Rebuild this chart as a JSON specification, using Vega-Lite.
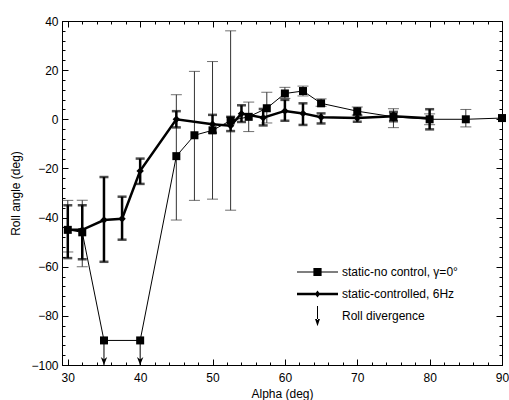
{
  "$schema": "https://vega.github.io/schema/vega-lite/v6.json",
  "width": 440,
  "height": 344,
  "autosize": {"type": "none"},
  "padding": {"left": 62, "top": 21, "right": 7, "bottom": 35},
  "background": "white",
  "config": {
    "view": {"stroke": "black", "strokeWidth": 1},
    "axis": {
      "labelFont": "Liberation Sans", "labelFontSize": 12, "labelColor": "black",
      "titleFont": "Liberation Sans", "titleFontSize": 12, "titleFontWeight": "normal", "titleColor": "black",
      "domainColor": "black", "tickColor": "black", "grid": false, "labelFlush": false, "labelOverlap": false
    },
    "legend": {"labelFont": "Liberation Sans", "labelFontSize": 12, "labelColor": "black"}
  },
  "datasets": {
    "d": [
      {"s": "nc", "x": 30, "y": -45, "lo": -54, "hi": -33},
      {"s": "nc", "x": 32, "y": -46, "lo": -60, "hi": -33},
      {"s": "nc", "x": 35, "y": -90, "lo": null, "hi": null},
      {"s": "nc", "x": 40, "y": -90, "lo": null, "hi": null},
      {"s": "nc", "x": 45, "y": -15, "lo": -41, "hi": 10},
      {"s": "nc", "x": 47.5, "y": -6.5, "lo": -33, "hi": 19.5},
      {"s": "nc", "x": 50, "y": -4.5, "lo": -32.5, "hi": 23.5},
      {"s": "nc", "x": 52.5, "y": -0.5, "lo": -37, "hi": 36},
      {"s": "nc", "x": 55, "y": 1, "lo": -5, "hi": 7},
      {"s": "nc", "x": 57.5, "y": 4.5, "lo": -1.5, "hi": 11},
      {"s": "nc", "x": 60, "y": 10.5, "lo": 8.5, "hi": 13},
      {"s": "nc", "x": 62.5, "y": 11.5, "lo": 9.5, "hi": 13.5},
      {"s": "nc", "x": 65, "y": 6.5, "lo": 5.3, "hi": 8.3},
      {"s": "nc", "x": 70, "y": 3.3, "lo": 1.7, "hi": 5},
      {"s": "nc", "x": 75, "y": 1, "lo": -3.4, "hi": 4.3},
      {"s": "nc", "x": 80, "y": 0, "lo": -2.2, "hi": 2.2},
      {"s": "nc", "x": 85, "y": 0, "lo": -3.1, "hi": 4},
      {"s": "nc", "x": 90, "y": 0.5, "lo": null, "hi": null},
      {"s": "c", "x": 30, "y": -45, "lo": -56.5, "hi": -35},
      {"s": "c", "x": 32, "y": -45, "lo": -57, "hi": -35},
      {"s": "c", "x": 35, "y": -41, "lo": -58, "hi": -23.5},
      {"s": "c", "x": 37.5, "y": -40.5, "lo": -49, "hi": -31.5},
      {"s": "c", "x": 40, "y": -21, "lo": -26.3, "hi": -16},
      {"s": "c", "x": 45, "y": 0, "lo": -3.3, "hi": 3.3},
      {"s": "c", "x": 50, "y": -2, "lo": -5.5, "hi": 1.8},
      {"s": "c", "x": 52.5, "y": -2.6, "lo": -4.8, "hi": 1},
      {"s": "c", "x": 54, "y": 2.3, "lo": -1.1, "hi": 5.7},
      {"s": "c", "x": 57, "y": 0.6, "lo": -2.5, "hi": 4.2},
      {"s": "c", "x": 60, "y": 3.4, "lo": -0.6, "hi": 7.9},
      {"s": "c", "x": 62.5, "y": 2.4, "lo": -2.3, "hi": 6.5},
      {"s": "c", "x": 65, "y": 0.8, "lo": -1.7, "hi": 2.4},
      {"s": "c", "x": 70, "y": 0.5, "lo": -1, "hi": 1.7},
      {"s": "c", "x": 75, "y": 1.2, "lo": -0.8, "hi": 3},
      {"s": "c", "x": 80, "y": 0.4, "lo": -4.1, "hi": 4.1}
    ],
    "arr": [
      {"x": 35, "y": -90, "y2": -100},
      {"x": 40, "y": -90, "y2": -100}
    ]
  },
  "resolve": {"axis": {"x": "independent", "y": "independent"}},
  "layer": [
    {
      "data": {"name": "d"},
      "transform": [{"filter": "datum.s === 'nc'"}],
      "mark": {"type": "rule", "color": "#333", "strokeWidth": 1},
      "encoding": {
        "x": {"field": "x", "type": "quantitative", "scale": {"domain": [29.2, 90], "nice": false, "zero": false},
          "axis": {"orient": "bottom", "title": "Alpha (deg)", "values": [30,32,34,36,38,40,42,44,46,48,50,52,54,56,58,60,62,64,66,68,70,72,74,76,78,80,82,84,86,88,90],
            "labelExpr": "datum.value % 10 === 0 ? datum.label : ''",
            "tickSize": {"condition": {"test": "datum.value % 10 === 0", "value": -6}, "value": -3},
            "labelPadding": 13, "titlePadding": 2}},
        "y": {"field": "lo", "type": "quantitative", "scale": {"domain": [-100, 40], "nice": false, "zero": false},
          "axis": {"orient": "left", "title": "Roll angle (deg)", "values": [-100,-96,-92,-88,-84,-80,-76,-72,-68,-64,-60,-56,-52,-48,-44,-40,-36,-32,-28,-24,-20,-16,-12,-8,-4,0,4,8,12,16,20,24,28,32,36,40],
            "labelExpr": "datum.value % 20 === 0 ? datum.label : ''",
            "tickSize": {"condition": {"test": "datum.value % 20 === 0", "value": -6}, "value": -3},
            "labelPadding": 10, "titlePadding": 8}},
        "y2": {"field": "hi"}
      }
    },
    {
      "data": {"name": "d"},
      "transform": [{"filter": "datum.s === 'nc'"}],
      "mark": {"type": "tick", "orient": "horizontal", "size": 11, "thickness": 1, "color": "#333"},
      "encoding": {
        "x": {"field": "x", "type": "quantitative", "scale": {"domain": [29.2, 90], "nice": false, "zero": false}, "axis": null},
        "y": {"field": "lo", "type": "quantitative", "scale": {"domain": [-100, 40], "nice": false, "zero": false}, "axis": null}
      }
    },
    {
      "data": {"name": "d"},
      "transform": [{"filter": "datum.s === 'nc'"}],
      "mark": {"type": "tick", "orient": "horizontal", "size": 11, "thickness": 1, "color": "#333"},
      "encoding": {
        "x": {"field": "x", "type": "quantitative", "scale": {"domain": [29.2, 90], "nice": false, "zero": false}, "axis": null},
        "y": {"field": "hi", "type": "quantitative", "scale": {"domain": [-100, 40], "nice": false, "zero": false}, "axis": null}
      }
    },
    {
      "data": {"name": "d"},
      "transform": [{"filter": "datum.s === 'c'"}],
      "mark": {"type": "rule", "color": "black", "strokeWidth": 2.5},
      "encoding": {
        "x": {"field": "x", "type": "quantitative", "scale": {"domain": [29.2, 90], "nice": false, "zero": false}, "axis": null},
        "y": {"field": "lo", "type": "quantitative", "scale": {"domain": [-100, 40], "nice": false, "zero": false}, "axis": null},
        "y2": {"field": "hi"}
      }
    },
    {
      "data": {"name": "d"},
      "transform": [{"filter": "datum.s === 'c'"}],
      "mark": {"type": "tick", "orient": "horizontal", "size": 9, "thickness": 2.5, "color": "black"},
      "encoding": {
        "x": {"field": "x", "type": "quantitative", "scale": {"domain": [29.2, 90], "nice": false, "zero": false}, "axis": null},
        "y": {"field": "lo", "type": "quantitative", "scale": {"domain": [-100, 40], "nice": false, "zero": false}, "axis": null}
      }
    },
    {
      "data": {"name": "d"},
      "transform": [{"filter": "datum.s === 'c'"}],
      "mark": {"type": "tick", "orient": "horizontal", "size": 9, "thickness": 2.5, "color": "black"},
      "encoding": {
        "x": {"field": "x", "type": "quantitative", "scale": {"domain": [29.2, 90], "nice": false, "zero": false}, "axis": null},
        "y": {"field": "hi", "type": "quantitative", "scale": {"domain": [-100, 40], "nice": false, "zero": false}, "axis": null}
      }
    },
    {
      "data": {"name": "d"},
      "transform": [{"filter": "datum.s === 'nc'"}],
      "mark": {"type": "line", "color": "black", "strokeWidth": 1},
      "encoding": {
        "x": {"field": "x", "type": "quantitative", "scale": {"domain": [29.2, 90], "nice": false, "zero": false}, "axis": null},
        "y": {"field": "y", "type": "quantitative", "scale": {"domain": [-100, 40], "nice": false, "zero": false}, "axis": null}
      }
    },
    {
      "data": {"name": "d"},
      "transform": [{"filter": "datum.s === 'nc'"}],
      "mark": {"type": "point", "shape": "square", "filled": true, "color": "black", "size": 64, "opacity": 1},
      "encoding": {
        "x": {"field": "x", "type": "quantitative", "scale": {"domain": [29.2, 90], "nice": false, "zero": false}, "axis": null},
        "y": {"field": "y", "type": "quantitative", "scale": {"domain": [-100, 40], "nice": false, "zero": false}, "axis": null}
      }
    },
    {
      "data": {"name": "d"},
      "transform": [{"filter": "datum.s === 'c'"}],
      "mark": {"type": "line", "color": "black", "strokeWidth": 2.5},
      "encoding": {
        "x": {"field": "x", "type": "quantitative", "scale": {"domain": [29.2, 90], "nice": false, "zero": false}, "axis": null},
        "y": {"field": "y", "type": "quantitative", "scale": {"domain": [-100, 40], "nice": false, "zero": false}, "axis": null}
      }
    },
    {
      "data": {"name": "d"},
      "transform": [{"filter": "datum.s === 'c'"}],
      "mark": {"type": "point", "shape": "diamond", "filled": true, "color": "black", "size": 55, "opacity": 1},
      "encoding": {
        "x": {"field": "x", "type": "quantitative", "scale": {"domain": [29.2, 90], "nice": false, "zero": false}, "axis": null},
        "y": {"field": "y", "type": "quantitative", "scale": {"domain": [-100, 40], "nice": false, "zero": false}, "axis": null}
      }
    },
    {
      "data": {"name": "arr"},
      "mark": {"type": "rule", "color": "black", "strokeWidth": 1},
      "encoding": {
        "x": {"field": "x", "type": "quantitative", "scale": {"domain": [29.2, 90], "nice": false, "zero": false}, "axis": null},
        "y": {"field": "y", "type": "quantitative", "scale": {"domain": [-100, 40], "nice": false, "zero": false}, "axis": null},
        "y2": {"field": "y2"}
      }
    },
    {
      "data": {"name": "arr"},
      "mark": {"type": "point", "shape": "M-0.4,-1L0,0L0.4,-1L0,-0.7Z", "filled": true, "color": "black", "size": 256, "opacity": 1},
      "encoding": {
        "x": {"field": "x", "type": "quantitative", "scale": {"domain": [29.2, 90], "nice": false, "zero": false}, "axis": null},
        "y": {"field": "y2", "type": "quantitative", "scale": {"domain": [-100, 40], "nice": false, "zero": false}, "axis": null}
      }
    },
    {
      "data": {"name": "d"},
      "transform": [{"filter": "false"}],
      "mark": {"type": "point", "filled": true, "color": "black", "opacity": 1, "size": 1681},
      "encoding": {
        "x": {"field": "x", "type": "quantitative", "scale": {"domain": [29.2, 90], "nice": false, "zero": false},
          "axis": {"orient": "top", "title": null, "labels": false, "values": [30,32,34,36,38,40,42,44,46,48,50,52,54,56,58,60,62,64,66,68,70,72,74,76,78,80,82,84,86,88,90],
            "tickSize": {"condition": {"test": "datum.value % 10 === 0", "value": -6}, "value": -3}}},
        "y": {"field": "y", "type": "quantitative", "scale": {"domain": [-100, 40], "nice": false, "zero": false},
          "axis": {"orient": "right", "title": null, "labels": false, "values": [-100,-96,-92,-88,-84,-80,-76,-72,-68,-64,-60,-56,-52,-48,-44,-40,-36,-32,-28,-24,-20,-16,-12,-8,-4,0,4,8,12,16,20,24,28,32,36,40],
            "tickSize": {"condition": {"test": "datum.value % 20 === 0", "value": -6}, "value": -3}}},
        "shape": {"field": "s", "type": "nominal",
          "scale": {"domain": ["static-no control, γ=0°", "static-controlled, 6Hz", "Roll divergence"],
            "range": ["M-1,-0.025H1V0.025H-1ZM-0.2,-0.2H0.2V0.2H-0.2Z", "M-1,-0.06H1V0.06H-1ZM0,-0.17L0.13,0L0,0.17L-0.13,0Z", "M-0.025,-0.5H0.025V0.2H-0.025ZM-0.12,0.15L0,0.5L0.12,0.15Z"]},
          "legend": {"title": null, "orient": "none", "legendX": 235, "legendY": 241, "padding": 0, "clipHeight": 20, "rowPadding": 2, "labelOffset": 4,
            "symbolFillColor": "black", "symbolStrokeColor": "black", "symbolStrokeWidth": 0, "symbolOpacity": 1, "symbolSize": 1681}}
      }
    }
  ]
}
